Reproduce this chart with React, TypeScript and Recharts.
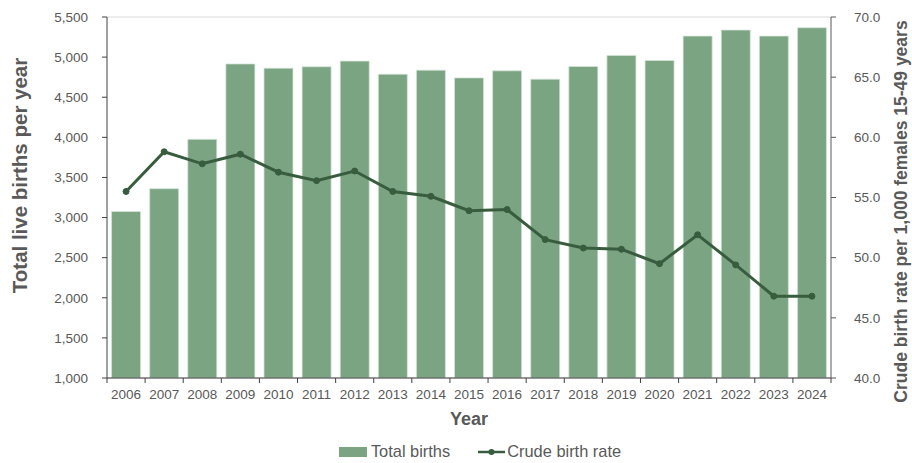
import {
  ComposedChart,
  Bar,
  Line,
  XAxis,
  YAxis,
  CartesianGrid,
  Legend,
} from "recharts";

const years = [
  "2006", "2007", "2008", "2009", "2010", "2011", "2012", "2013", "2014", "2015",
  "2016", "2017", "2018", "2019", "2020", "2021", "2022", "2023", "2024",
];
const totalBirths = [
  3075, 3360, 3975, 4915, 4862, 4880, 4950, 4787, 4837, 4741,
  4829, 4725, 4883, 5021, 4958, 5262, 5337, 5262, 5366,
];
const crudeRate = [
  55.5, 58.8, 57.8, 58.6, 57.1, 56.4, 57.2, 55.5, 55.1, 53.9,
  54.0, 51.5, 50.8, 50.7, 49.5, 51.9, 49.4, 46.8, 46.8,
];
const leftTicks = [1000, 1500, 2000, 2500, 3000, 3500, 4000, 4500, 5000, 5500];
const rightTicks = [40, 45, 50, 55, 60, 65, 70];

const data = years.map((year, i) => ({
  year,
  births: totalBirths[i],
  rate: crudeRate[i],
}));

const FONT = "'Liberation Sans', Arial, sans-serif";
const TEXT = "#595959";
const BAR = "#7ba483";
const LINE = "#385c3e";
const PLOT_W = 724;

const XTick = (props: any) => {
  const { x, y, payload } = props;
  const half = PLOT_W / years.length / 2;
  return (
    <g>
      <line x1={x - half} y1={y - 8} x2={x - half} y2={y - 3} stroke="#404040" />
      {payload.index === years.length - 1 && (
        <line x1={x + half} y1={y - 8} x2={x + half} y2={y - 3} stroke="#404040" />
      )}
      <text x={x} y={y + 12.5} textAnchor="middle" fill={TEXT} fontSize={13.5} fontFamily={FONT}>
        {payload.value}
      </text>
    </g>
  );
};

// axis titles, placed relative to the plot box
const LeftTitle = (props: any) => {
  const { viewBox } = props;
  const cx = 19;
  const cy = viewBox.y + viewBox.height / 2 - 22;
  return (
    <text
      x={cx}
      y={cy}
      transform={`rotate(-90, ${cx}, ${cy})`}
      textAnchor="middle"
      dominantBaseline="central"
      fill={TEXT}
      fontSize={20.5}
      fontWeight="bold"
      fontFamily={FONT}
    >
      Total live births per year
    </text>
  );
};

const RightTitle = (props: any) => {
  const { viewBox } = props;
  const cx = 901;
  const cy = viewBox.y + viewBox.height / 2 + 14;
  return (
    <text
      x={cx}
      y={cy}
      transform={`rotate(-90, ${cx}, ${cy})`}
      textAnchor="middle"
      dominantBaseline="central"
      fill={TEXT}
      fontSize={17.5}
      fontWeight="bold"
      fontFamily={FONT}
    >
      Crude birth rate per 1,000 females 15-49 years
    </text>
  );
};

const renderLegend = () => (
  <div
    style={{
      display: "flex",
      justifyContent: "center",
      alignItems: "center",
      fontFamily: FONT,
      fontSize: 16.4,
      color: TEXT,
      paddingLeft: 48,
    }}
  >
    <span style={{ display: "flex", alignItems: "center", marginRight: 28 }}>
      <span style={{ display: "inline-block", width: 28, height: 10, background: BAR, marginRight: 4 }} />
      Total births
    </span>
    <span style={{ display: "flex", alignItems: "center" }}>
      <svg width={27} height={10} style={{ marginRight: 2 }}>
        <line x1={0} y1={5} x2={27} y2={5} stroke={LINE} strokeWidth={2.5} />
        <circle cx={13.5} cy={5} r={3} fill={LINE} />
      </svg>
      Crude birth rate
    </span>
  </div>
);

export default function App() {
  return (
    <div style={{ position: "absolute", left: 0, top: 0, background: "#fff" }}>
      <ComposedChart
        width={912}
        height={463}
        data={data}
        margin={{ top: 17, right: 0, left: 0, bottom: 2 }}
        barCategoryGap="12%"
      >
        <CartesianGrid vertical={false} stroke="#d9d9d9" strokeWidth={1} />
        <XAxis
          dataKey="year"
          height={64}
          axisLine={{ stroke: "#404040" }}
          tickLine={false}
          tick={<XTick />}
          label={{
            value: "Year",
            position: "insideBottom",
            offset: 17,
            fill: TEXT,
            fontSize: 18,
            fontWeight: "bold",
            fontFamily: FONT,
          }}
        />
        <YAxis
          yAxisId="left"
          width={107}
          domain={[1000, 5500]}
          ticks={leftTicks}
          interval={0}
          allowDataOverflow
          tickFormatter={(v: number) => v.toLocaleString("en-US")}
          tick={{ fill: TEXT, fontSize: 13.5, fontFamily: FONT }}
          axisLine={{ stroke: "#404040" }}
          tickLine={{ stroke: "#404040" }}
          tickSize={5}
          tickMargin={14}
          label={<LeftTitle />}
        />
        <YAxis
          yAxisId="right"
          orientation="right"
          width={81}
          domain={[40, 70]}
          ticks={rightTicks}
          interval={0}
          tickFormatter={(v: number) => v.toFixed(1)}
          tick={{ fill: TEXT, fontSize: 13.5, fontFamily: FONT }}
          axisLine={{ stroke: "#595959" }}
          tickLine={{ stroke: "#595959" }}
          tickSize={5}
          tickMargin={18}
          label={<RightTitle />}
        />
        <Legend verticalAlign="bottom" content={renderLegend} />
        <Bar
          yAxisId="left"
          dataKey="births"
          name="Total births"
          fill={BAR}
          stroke="#d6e4d8"
          strokeWidth={0.75}
          isAnimationActive={false}
        />
        <Line
          yAxisId="right"
          dataKey="rate"
          name="Crude birth rate"
          type="linear"
          stroke={LINE}
          strokeWidth={3}
          dot={{ r: 3, fill: LINE, stroke: LINE, strokeWidth: 1 }}
          isAnimationActive={false}
        />
      </ComposedChart>
    </div>
  );
}
